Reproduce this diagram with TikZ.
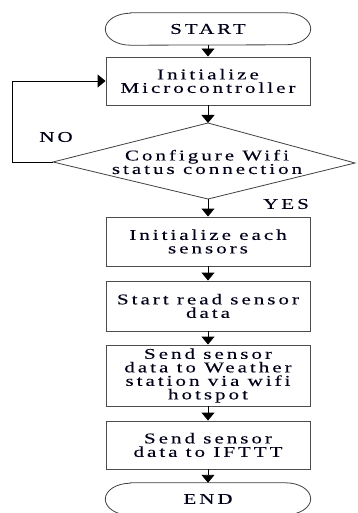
\documentclass[tikz,border=0pt]{standalone}
\usepackage{fontspec}
\setmainfont{Liberation Serif}[FakeStretch=1.4,LetterSpace=20,FakeBold=0.15]
\usetikzlibrary{arrows.meta}
\begin{document}
\begin{tikzpicture}[x=1pt,y=-1pt,
  txt/.style={font=\fontsize{15}{13.5}\selectfont, text=black!90!blue, align=center},
  proc/.style={txt, draw=black!70, line width=0.9pt, minimum width=204pt, inner sep=0pt},
  term/.style={txt, minimum width=205pt, minimum height=32pt, inner sep=0pt},
  shapeline/.style={draw=black!75, line width=0.8pt},
  arr/.style={-{Triangle[width=13pt,length=8pt]}, line width=0.9pt, black}
]
\useasboundingbox (0,0) rectangle (358,513);
% terminals
\node[term] (start) at (208,29) {START};
\draw[shapeline] ([xshift=25pt]start.north west) -- ([xshift=-25pt]start.north east)
  arc[start angle=90,end angle=-90,x radius=25pt,y radius=16pt]
  -- ([xshift=25pt]start.south west)
  arc[start angle=270,end angle=90,x radius=25pt,y radius=16pt] -- cycle;
\node[term] (end) at (208,499) {END};
\draw[shapeline] ([xshift=25pt]end.north west) -- ([xshift=-25pt]end.north east)
  arc[start angle=90,end angle=-90,x radius=25pt,y radius=16pt]
  -- ([xshift=25pt]end.south west)
  arc[start angle=270,end angle=90,x radius=25pt,y radius=16pt] -- cycle;
% process boxes
\node[proc, minimum height=48pt] (b1) at (208,81) {Initialize\\Microcontroller};
\node[proc, minimum height=49pt] (b2) at (208,241.5) {Initialize each\\sensors};
\node[proc, minimum height=50pt] (b3) at (208,306) {Start read sensor\\data};
\node[proc, minimum height=61pt] (b4) at (208,375.5) {Send sensor\\data to Weather\\station via wifi\\hotspot};
\node[proc, minimum height=48pt] (b5) at (208,445) {Send sensor\\data to IFTTT};
% decision
\coordinate (dt) at (208,123);
\coordinate (dr) at (355,163);
\coordinate (db) at (208,199);
\coordinate (dl) at (53,162);
\draw[shapeline] (dt) -- (dr) -- (db) -- (dl) -- cycle;
\node[txt] (cfg) at (207,162) {Configure Wifi\\status connection};
% labels
\node[txt] (no) at (56,137) {NO};
\node[txt] (yes) at (286,204) {YES};
% connectors
\draw[arr] (start.south) -- (b1.north);
\draw[arr] (b1.south) -- (dt);
\draw[arr] (db) -- (b2.north);
\draw[arr] (b2.south) -- (b3.north);
\draw[arr] (b3.south) -- (b4.north);
\draw[arr] (b4.south) -- (b5.north);
\draw[arr] (b5.south) -- (end.north);
\coordinate (lp) at (12,162);
\draw[arr] (dl) -- (lp) |- (b1.west);
\end{tikzpicture}
\end{document}
